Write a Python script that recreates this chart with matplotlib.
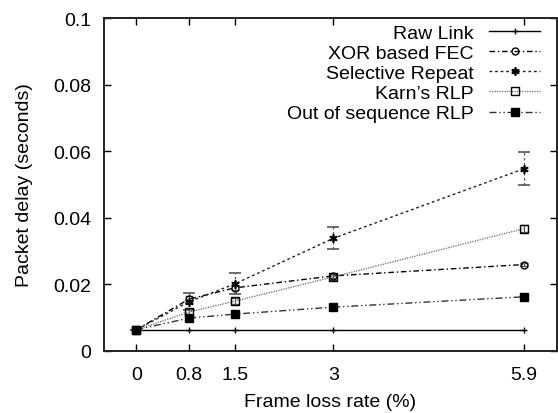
import matplotlib
matplotlib.use("Agg")
import matplotlib.pyplot as plt
from matplotlib.lines import Line2D

plt.rcParams['font.family'] = ['Liberation Sans', 'DejaVu Sans']

loss = [0, 0.8, 1.5, 3, 5.9]
tick_labels = ["0", "0.8", "1.5", "3", "5.9"]
raw_link = [0.0063, 0.0063, 0.0063, 0.0063, 0.0063]
xor_fec = [0.0063, 0.0155, 0.0189, 0.0225, 0.0259]
xor_err = [0.0, 0.0008, 0.0008, 0.0006, 0.0005]
sel_rep = [0.0063, 0.0147, 0.0201, 0.0338, 0.0547]
sel_err = [0.0, 0.0025, 0.0032, 0.0033, 0.0050]
karn = [0.0063, 0.0116, 0.0149, 0.0222, 0.0367]
karn_err = [0.0, 0.0008, 0.0008, 0.0008, 0.0010]
oos = [0.0063, 0.0098, 0.0110, 0.0131, 0.0162]
oos_err = [0.0, 0.0003, 0.0003, 0.0003, 0.0003]

fig = plt.figure(figsize=(5.58, 4.14), dpi=100)
ax = fig.add_axes([0.1855, 0.1505, 0.8125, 0.8035])

fs = 14

ls_xor = (0, (4, 2, 1, 2))
ls_sr = (0, (2, 2))
ls_karn = (0, (1, 1))
ls_oos = (0, (5, 2, 1, 2, 1, 2))
star = (6, 2, 0)

ax.plot(loss, raw_link, color='black', lw=1.0, ls='-', marker='+', ms=5, mew=1.0)

e1 = ax.errorbar(loss, xor_fec, yerr=xor_err, color='black', lw=1.0, ls=ls_xor,
                 marker='o', ms=5, mfc='none', mec='black', mew=1.0,
                 ecolor='#555555', elinewidth=0.8, capsize=3, capthick=0.8)
e2 = ax.errorbar(loss, sel_rep, yerr=sel_err, color='#222222', lw=1.0, ls=ls_sr,
                 marker=star, ms=6, mec='black', mew=1.2,
                 ecolor='#555555', elinewidth=0.9, capsize=4, capthick=0.9)
for b in e2[2]:
    b.set_linestyle((0, (2, 2)))
e3 = ax.errorbar(loss, karn, yerr=karn_err, color='#666666', lw=0.9, ls=ls_karn,
                 marker='s', ms=5.5, mfc='none', mec='black', mew=1.0,
                 ecolor='#555555', elinewidth=0.8, capsize=3, capthick=0.8)
e4 = ax.errorbar(loss, oos, yerr=oos_err, color='#333333', lw=1.0, ls=ls_oos,
                 marker='s', ms=6, mfc='black', mec='black', mew=1.0,
                 ecolor='#555555', elinewidth=0.8, capsize=2, capthick=0.8)

ax.set_xlim(-0.5, 6.4)
ax.set_ylim(0, 0.1)
ax.set_xticks(loss)
ax.set_xticklabels(tick_labels)
ax.set_yticks([0, 0.02, 0.04, 0.06, 0.08, 0.1])
ax.set_yticklabels(["0", "0.02", "0.04", "0.06", "0.08", "0.1"])
ax.tick_params(direction='in', top=True, right=True, length=5, width=1.0,
               labelsize=fs, pad=9, colors='black')
ax.tick_params(axis='x', pad=11)
for s in ax.spines.values():
    s.set_linewidth(1.4)
    s.set_color('#222222')

ax.set_xlabel("Frame loss rate (%)", fontsize=fs, labelpad=7)
ax.set_ylabel("Packet delay (seconds)", fontsize=fs, labelpad=14)

handles = [
    Line2D([], [], color='black', lw=1.0, ls='-', marker='+', ms=5),
    Line2D([], [], color='black', lw=1.0, ls=ls_xor, marker='o', ms=5, mfc='none', mec='black'),
    Line2D([], [], color='#222222', lw=1.0, ls=ls_sr, marker=star, ms=6, mec='black', mew=1.2),
    Line2D([], [], color='#666666', lw=0.9, ls=ls_karn, marker='s', ms=5.5, mfc='none', mec='black'),
    Line2D([], [], color='#333333', lw=1.0, ls=ls_oos, marker='s', ms=6, mfc='black', mec='black'),
]
labels = ["Raw Link", "XOR based FEC", "Selective Repeat", "Karn\u2019s RLP", "Out of sequence RLP"]
leg = ax.legend(handles, labels, loc='upper right', bbox_to_anchor=(0.98, 1.005),
                frameon=False, markerfirst=False, fontsize=fs, handlelength=2.6,
                labelspacing=0.13, handletextpad=0.8, borderaxespad=0.0)
for t in leg.get_texts():
    t.set_ha('right')

fig.savefig("out.png", dpi=100)
